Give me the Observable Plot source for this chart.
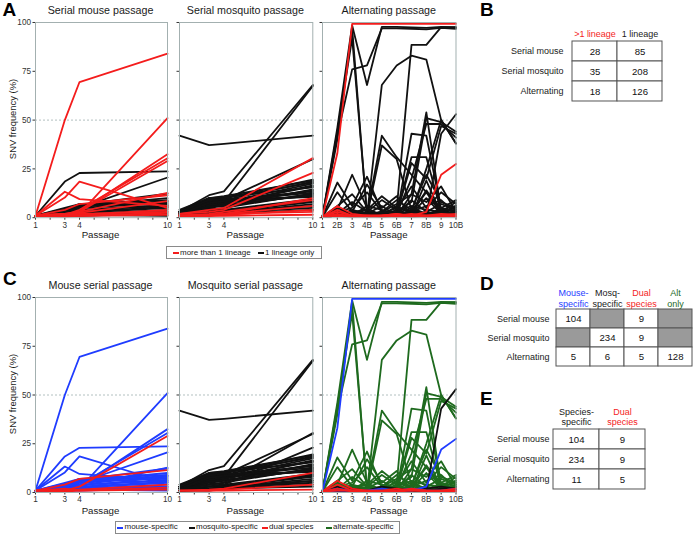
<!DOCTYPE html>
<html><head><meta charset="utf-8">
<script src="https://cdn.jsdelivr.net/npm/d3@7"></script>
<script src="https://cdn.jsdelivr.net/npm/@observablehq/plot@0.6"></script>
<style>
body{margin:0;background:#fff}
#fig{position:relative;width:696px;height:536px;background:#fff;font-family:'Liberation Sans',Arial,Helvetica,sans-serif;color:#1a1a1a;overflow:hidden}
.t{position:absolute;white-space:nowrap;line-height:1}
</style></head>
<body><div id="fig"></div>
<script>
// ---------------- data ----------------
const serialPassages = [1, 3, 4, 10];
const serialTickLabels = ["1", "", "3", "4", "", "", "", "", "", "10"];
const altPassages = [1, 2, 3, 4, 5, 6, 7, 8, 9, 10];
const altTickLabels = ["1", "2B", "3", "4B", "5", "6B", "7", "8B", "9", "10B"];
const yTicks = [0, 25, 50, 75, 100];

// [lineage, species, P1, P3, P4, P10]
const mouseSeries = [
  ["1","mouse", 1, 4, 7, 9], ["1","mouse", 1, 3, 6.5, 8], ["1","mouse", 1, 2, 5, 7.5],
  ["1","mouse", 1, 3.5, 4, 6.5], ["1","mouse", 1, 2.5, 3, 5.5], ["1","mouse", 1, 1.5, 2.5, 5],
  ["1","mouse", 1, 1, 2, 4], ["1","mouse", 1, 2, 1.5, 3], ["1","mouse", 1, 1, 1, 2],
  ["1","mouse", 1, 4.5, 6, 10], ["1","mouse", 1, 1, 1.5, 1], ["1","mouse", 1, 3, 6.5, 12.3],
  ["1","mouse", 1, 5, 7, 7], ["1","mouse", 1, 2, 4, 6], ["1","mouse", 1, 3, 5.5, 8.5],
  ["1","mouse", 1, 18.5, 22.9, 23.7], ["1","mouse", 1, 3, 5, 20.6],
  [">1","mouse", 1, 50, 69.5, 84], [">1","mouse", 1, 1, 2, 51],
  [">1","mouse", 1, 2, 3, 32.5], [">1","mouse", 1, 1.5, 4, 30.5],
  [">1","dual", 1, 1, 3, 29], [">1","mouse", 1, 13.3, 9.5, 6],
  [">1","mouse", 1, 10.3, 18.5, 5], [">1","dual", 1, 4, 7, 11.5],
  [">1","mouse", 1, 2, 3, 12.7], [">1","dual", 1, 1, 1.5, 4],
  [">1","dual", 1, 0.5, 1, 1.5], [">1","mouse", 1, 1, 2, 3],
  [">1","mouse", 1, 2, 2.5, 8.5], [">1","dual", 1, 2, 1, 2.5]
];

// [lineage, species, P1, P3, P4, P10]
const mosquitoSeries = [
  ["1","mosq", 42, 37.2, 37.8, 42], ["1","mosq", 3, 11.5, 13.5, 68],
  ["1","mosq", 3, 9, 8, 67.5], ["1","mosq", 3, 10, 9, 30],
  ["1","mosq", 3, 9.5, 10, 19.5], ["1","mosq", 2, 8, 9, 18.5],
  ["1","mosq", 3, 7, 8, 17.5], ["1","mosq", 2, 6, 7, 16.5],
  ["1","mosq", 3, 10, 10.5, 15.5], ["1","mosq", 2, 5, 6, 14.5],
  ["1","mosq", 3, 8.5, 9, 13.5], ["1","mosq", 2, 4, 5, 12.5],
  ["1","mosq", 3, 7, 6, 12], ["1","mosq", 2, 6, 8, 11],
  ["1","mosq", 3, 9, 9.5, 10.5], ["1","mosq", 2, 5, 4, 9.5],
  ["1","mosq", 1, 3, 3.5, 8.5], ["1","mosq", 2, 4, 3, 8],
  ["1","mosq", 1, 2, 2.5, 7], ["1","mosq", 1, 3, 3, 6],
  ["1","mosq", 2, 2, 2.5, 5], ["1","mosq", 1, 1.5, 2, 4],
  ["1","mosq", 4, 10, 11, 19], ["1","mosq", 3, 8, 10, 18],
  ["1","mosq", 2, 6.5, 7.5, 14], ["1","mosq", 3, 9, 7, 16],
  ["1","mosq", 2, 7.5, 8.5, 12.8], ["1","mosq", 1, 5.5, 6.5, 11.5],
  [">1","mosq", 2, 4, 5, 30.5], [">1","mosq", 2, 3, 4, 23],
  [">1","mosq", 1, 2, 3, 9], [">1","mosq", 1, 1.5, 2, 6],
  [">1","mosq", 1, 1, 2, 3], [">1","dual", 1, 1.5, 2, 10],
  [">1","dual", 1, 1, 1.5, 4], [">1","dual", 1, 1, 1, 1.5]
];

// [lineage, species, 1, 2B, 3, 4B, 5, 6B, 7, 8B, 9, 10B]
const altSeries = [
  ["1","alt", 0.5, 46, 98.5, 68, 97.8, 97.8, 97.5, 97.2, 97.8, 97.5],
  ["1","alt", 0.5, 42, 76, 78, 97, 97, 96.8, 96.5, 97.2, 96.8],
  ["1","alt", 0.5, 44, 92, 2, 1, 2, 1, 3, 1, 2],
  ["1","alt", 0.5, 40, 97, 1, 2, 1, 3, 2, 2, 1],
  ["1","alt", 0.5, 2, 1, 1, 68, 78, 83, 81, 50, 38],
  ["1","alt", 0.5, 1, 2, 1, 1, 4, 88.5, 88.5, 97.6, 97.6],
  ["1","alt", 0.5, 1, 2, 2, 42, 31, 22, 13, 2, 1],
  ["1","alt", 0.5, 2, 1, 1, 37, 30, 4, 2, 1, 2],
  ["1","alt", 0.5, 1, 3, 2, 2, 1, 43, 42, 4, 2],
  ["1","alt", 0.5, 2, 1, 3, 1, 2, 31, 31, 3, 5],
  ["1","alt", 0.5, 1, 2, 1, 2, 1, 12, 54, 3, 2],
  ["1","alt", 0.5, 2, 1, 2, 1, 3, 8, 51, 49, 44],
  ["1","alt", 0.5, 1, 2, 1, 2, 2, 20, 48, 48, 41],
  ["1","alt", 0.5, 1, 1, 2, 2, 1, 3, 25, 50, 38],
  ["1","alt", 0.5, 2, 2, 1, 3, 2, 28, 20, 47, 43],
  ["1","alt", 0.5, 18, 6, 21, 3, 9, 4, 22, 8, 5],
  ["1","alt", 0.5, 4, 22, 5, 1, 6, 2, 14, 3, 2],
  ["1","alt", 0.5, 13, 3, 17, 5, 11, 1, 19, 2, 6],
  ["1","alt", 0.5, 6, 12, 3, 9, 4, 16, 5, 13, 7],
  ["1","alt", 0.5, 3, 5, 13, 3, 7, 12, 8, 16, 3],
  ["1","alt", 0.5, 5, 2, 4, 11, 5, 3, 13, 5, 9],
  ["1","alt", 0.5, 2, 8, 3, 2, 3, 6, 4, 3, 8],
  ["1","alt", 0.5, 3, 1, 6, 4, 2, 9, 3, 7, 4],
  ["1","alt", 0.5, 1, 4, 2, 6, 1, 2, 10, 2, 3],
  ["1","alt", 0.5, 4, 2, 1, 2, 5, 3, 6, 9, 2],
  ["1","alt", 0.5, 2, 3, 4, 1, 2, 5, 2, 4, 6],
  ["1","alt", 0.5, 1, 1, 2, 3, 1, 1, 3, 1, 4],
  ["1","alt", 0.5, 3, 2, 1, 1, 3, 2, 1, 5, 3],
  ["1","alt", 0.5, 2, 1, 2, 2, 1, 4, 2, 2, 1],
  ["1","mosq", 0.5, 1, 0.5, 1, 0.5, 1, 0.5, 1, 43, 53],
  ["1","mosq", 0.5, 1, 2, 1, 3, 2, 1, 2, 3, 2],
  ["1","mouse", 0.5, 2, 1, 1, 2, 1, 2, 1, 1, 2],
  [">1","mouse", 0.5, 33, 99.3, 99.3, 99.3, 99.3, 99.3, 99.3, 99.3, 99.3],
  [">1","mouse", 0.5, 1, 1, 1, 1, 1, 1, 3, 22, 27.5],
  [">1","dual", 0.5, 6, 2, 1, 1, 2, 1, 1, 1, 1],
  [">1","dual", 0.5, 4, 1, 1, 0.5, 1, 2, 1, 0.5, 1],
  [">1","dual", 0.5, 2, 0.5, 1, 1, 0.5, 1, 1, 1, 0.5],
  [">1","mosq", 0.5, 1, 0.5, 0.5, 1, 2, 0.5, 1, 2, 1.5],
  [">1","dual", 0.5, 1, 1, 0.5, 0.5, 1, 1.5, 0.5, 1, 2],
  [">1","mosq", 0.5, 3, 1, 0.5, 1, 1.5, 1, 0.5, 1, 1]
];

const titlesA = ["Serial mouse passage", "Serial mosquito passage", "Alternating passage"];
const titlesC = ["Mouse serial passage", "Mosquito serial passage", "Alternating passage"];
const lineageColors = {">1": "#f41c1c", "1": "#111111"};
const speciesColors = {mouse: "#1f3cff", mosq: "#111111", dual: "#f41c1c", alt: "#1e6a1e"};
const legendA = [["more than 1 lineage", "#f41c1c"], ["1 lineage only", "#111111"]];
const legendC = [["mouse-specific", "#1f3cff"], ["mosquito-specific", "#111111"], ["dual species", "#f41c1c"], ["alternate-specific", "#1e6a1e"]];

const tableRows = ["Serial mouse", "Serial mosquito", "Alternating"];
const tableBCols = [">1 lineage", "1 lineage"];
const tableBColColors = ["#f41c1c", "#1a1a1a"];
const tableBValues = [[28, 85], [35, 208], [18, 126]];
const tableDCols = ["Mouse-\nspecific", "Mosq-\nspecific", "Dual\nspecies", "Alt\nonly"];
const tableDColColors = ["#1f3cff", "#1a1a1a", "#f41c1c", "#1e6a1e"];
const tableDValues = [[104, null, 9, null], [null, 234, 9, null], [5, 6, 5, 128]];
const tableECols = ["Species-\nspecific", "Dual\nspecies"];
const tableEColColors = ["#1a1a1a", "#f41c1c"];
const tableEValues = [[104, 9], [234, 9], [11, 5]];

// ---------------- layout helpers ----------------
const FONT = "'Liberation Sans',Arial,Helvetica,sans-serif";
const fig = document.getElementById("fig");
function place(node, left, top) {
  const d = document.createElement("div");
  d.style.cssText = `position:absolute;left:${left}px;top:${top}px`;
  d.append(node); fig.append(d);
}
function txt(s, x, y, o = {}) {
  const d = document.createElement("div");
  d.className = "t";
  const tx = o.anchor === "start" ? "0" : o.anchor === "end" ? "-100%" : "-50%";
  d.style.cssText = `left:${x}px;top:${y}px;font-size:${o.size || 9}px;font-weight:${o.weight || "normal"};color:${o.color || "#1a1a1a"};transform:translate(${tx},-50%)${o.rotate ? ` rotate(${o.rotate}deg)` : ""}`;
  d.textContent = s; fig.append(d);
}
function letter(s, x, capTop) {
  const d = document.createElement("div");
  d.className = "t";
  d.style.cssText = `left:${x}px;top:${capTop - 2.6}px;font-size:19px;font-weight:bold;color:#000`;
  d.textContent = s; fig.append(d);
}

const colL = [34.5, 178.7, 322], colR = [166.5, 312, 455.5];
const rowA = [21.5, 216.7], rowC = [296.7, 491.7];

function linePanel(series, xs, field, order, colors, L, R, T, B, tickLabels, showY) {
  const ml = 30, mr = 8, mt = 4, mb = 14;
  const pts = [];
  series.forEach((s, id) => s.slice(2).forEach((v, j) => pts.push({id, x: xs[j], y: v, g: s[field]})));
  const svg = Plot.plot({
    width: ml + (R - L) + mr, height: mt + (B - T) + mb,
    marginLeft: ml, marginRight: mr, marginTop: mt, marginBottom: mb,
    style: `display:block;background:transparent;overflow:visible;max-width:none;font-family:${FONT};font-size:8.2px;color:#333`,
    x: {domain: [1, 10], ticks: altPassages, tickFormat: d => tickLabels[d - 1], tickSize: 2.5, tickPadding: 1.5, label: null},
    y: {domain: [0, 100], ticks: yTicks, tickFormat: showY ? (d => String(d)) : (() => ""), tickSize: 2.5, tickPadding: 2, label: null},
    marks: [
      Plot.ruleY([50], {stroke: "#9fb0b0", strokeDasharray: "2,2", strokeWidth: 0.8}),
      ...order.map(g => Plot.line(pts.filter(p => p.g === g), {x: "x", y: "y", z: "id", stroke: colors[g], strokeWidth: 1.8})),
      Plot.frame({stroke: "#a3b0b0", strokeWidth: 1})
    ]
  });
  place(svg, L - ml, T - mt);
}

function tablePlot(rows, cols, colColors, values, gridL, gridT, cellW, cellH, labelDx) {
  const svgL = 470, svgT = gridT - 36;
  const ml = gridL - svgL, mt = 36;
  const cells = [];
  rows.forEach((r, i) => cols.forEach((c, j) => cells.push({row: r, col: c, v: values[i][j]})));
  const svg = Plot.plot({
    width: ml + cols.length * cellW + 3, height: mt + rows.length * cellH + 3,
    marginLeft: ml, marginTop: mt, marginRight: 3, marginBottom: 3,
    style: `display:block;background:transparent;overflow:visible;max-width:none;font-family:${FONT};font-size:9px;color:#1a1a1a`,
    color: {type: "identity"},
    x: {type: "band", domain: cols, padding: 0, axis: null},
    y: {type: "band", domain: rows, padding: 0, axis: null},
    marks: [
      Plot.cell(cells, {x: "col", y: "row", fill: d => d.v == null ? "#9a9a9a" : "#ffffff", stroke: "#555", strokeWidth: 1, inset: 0}),
      Plot.text(cells.filter(d => d.v != null), {x: "col", y: "row", text: d => String(d.v), fontSize: 9.6, fill: "#111"}),
      Plot.text(cols, {x: d => d, frameAnchor: "top", lineAnchor: "bottom", dy: -3, fontSize: 9, lineHeight: 1.2, fill: d => colColors[cols.indexOf(d)]}),
      Plot.text(rows, {y: d => d, frameAnchor: "left", textAnchor: "end", dx: labelDx, fontSize: 9, fill: "#1a1a1a"})
    ]
  });
  place(svg, svgL, svgT);
}

// ---------------- panels A & C ----------------
const panelDefs = [
  {series: mouseSeries, xs: serialPassages, ticks: serialTickLabels, orderC: ["mouse", "dual"]},
  {series: mosquitoSeries, xs: serialPassages, ticks: serialTickLabels, orderC: ["mosq", "dual"]},
  {series: altSeries, xs: altPassages, ticks: altTickLabels, orderC: ["alt", "mosq", "mouse", "dual"]}
];
panelDefs.forEach((p, i) => {
  linePanel(p.series, p.xs, 0, ["1", ">1"], lineageColors, colL[i], colR[i], rowA[0], rowA[1], p.ticks, i === 0);
  linePanel(p.series, p.xs, 1, p.orderC, speciesColors, colL[i], colR[i], rowC[0], rowC[1], p.ticks, i === 0);
  const cx = (colL[i] + colR[i]) / 2;
  txt(titlesA[i], cx, 9.5, {size: 10.7});
  txt(titlesC[i], cx, 285, {size: 10.7});
  txt("Passage", cx, 234.5, {size: 9.7});
  txt("Passage", cx, 510.5, {size: 9.7});
});
txt("SNV frequency (%)", 12.7, (rowA[0] + rowA[1]) / 2, {size: 9.4, rotate: -90});
txt("SNV frequency (%)", 12.7, (rowC[0] + rowC[1]) / 2, {size: 9.4, rotate: -90});

// legends
function legend(items, left, top, width, xs) {
  const box = document.createElement("div");
  box.style.cssText = `position:absolute;left:${left}px;top:${top}px;width:${width}px;height:11px;border:1px solid #8a8a8a;background:#fff`;
  fig.append(box);
  items.forEach(([label, color], i) => {
    const sw = document.createElement("div");
    sw.style.cssText = `position:absolute;left:${xs[i]}px;top:${top + 6}px;width:6px;height:2px;background:${color}`;
    fig.append(sw);
    txt(label, xs[i] + 7.5, top + 6.8, {size: 8, anchor: "start"});
  });
}
legend(legendA, 166, 246, 154, [172.5, 257.5]);
legend(legendC, 115, 520.5, 283, [117, 188.5, 261.5, 325.5]);

// tables
tablePlot(tableRows, tableBCols, tableBColColors, tableBValues, 571, 40, 45.5, 20.67, -8);
tablePlot(tableRows, tableDCols, tableDColColors, tableDValues, 555, 309, 34.5, 19, -6);
tablePlot(tableRows, tableECols, tableEColColors, tableEValues, 553, 428, 46, 20.67, -4);

// panel letters
letter("A", 2.5, 3); letter("B", 480, 3);
letter("C", 3, 272); letter("D", 480, 277); letter("E", 480, 392);
</script></body></html>
